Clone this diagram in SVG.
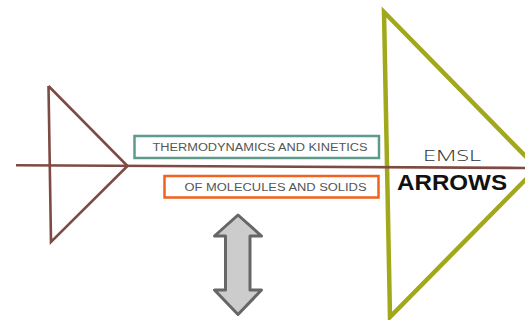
<svg xmlns="http://www.w3.org/2000/svg" width="525" height="320" viewBox="0 0 525 320">
<style>
.brown{fill:none;stroke:#7d4b43;stroke-width:2.6;stroke-linejoin:miter}
.box{fill:#fff;stroke-width:2.5}
.small{font-family:"Liberation Sans",Arial,sans-serif;font-size:10px;text-transform:uppercase;fill:#555}
</style>
<rect width="525" height="320" fill="#fff"/>
<g id="emsl-triangle">
<polygon points="384,12 537,168 390,317" fill="none" stroke="#a2a81c" stroke-width="4.5" stroke-linejoin="miter"/>
<text x="423" y="160.5" font-family="'Open Sans','Liberation Sans',sans-serif" font-size="15" font-weight="300" fill="#333" textLength="58" lengthAdjust="spacingAndGlyphs">EMSL</text>
<text x="397" y="190" font-family="'Liberation Sans',Arial,sans-serif" font-size="22" font-weight="bold" fill="#111" style="text-transform:uppercase" textLength="110" lengthAdjust="spacingAndGlyphs">Arrows</text>
</g>
<g id="left-arrowhead">
<polyline class="brown" points="48.5,86 127.5,166 51,242 48.5,86"/>
</g>
<g id="thermo-box">
<rect class="box" x="134.5" y="136" width="244.5" height="22" stroke="#5e9a8c"/>
<text class="small" x="152.5" y="151.3" textLength="215" lengthAdjust="spacingAndGlyphs">Thermodynamics and Kinetics</text>
</g>
<g id="molecules-box">
<rect class="box" x="164.5" y="176" width="214" height="21.5" stroke="#f0621e"/>
<text class="small" x="184.5" y="191.3" textLength="182" lengthAdjust="spacingAndGlyphs">of Molecules and Solids</text>
</g>
<g id="double-arrow">
<polygon points="238,215 261.5,236 250,236 250,290 261.5,290 238,314.5 214.5,290 225.5,290 225.5,236 214.5,236" fill="#cccccc" stroke="#666666" stroke-width="3" stroke-linejoin="round"/>
</g>
<g id="connectors">
<line x1="16" y1="165.3" x2="525" y2="168" stroke="#7d4b43" stroke-width="2.6"/>
</g>
</svg>
